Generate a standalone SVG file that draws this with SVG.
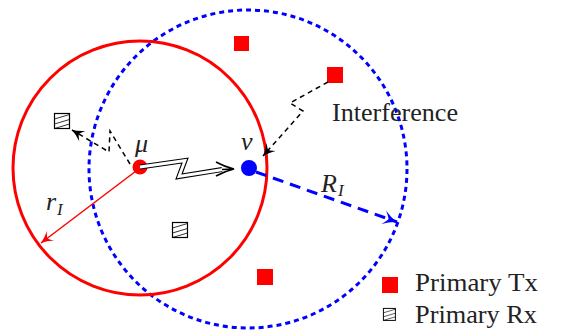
<svg xmlns="http://www.w3.org/2000/svg" width="564" height="333" viewBox="0 0 564 333">
<style>
.txt{font-family:"Liberation Serif","Times New Roman","DejaVu Serif",serif;fill:#222}
.math{font-family:"Liberation Serif","Times New Roman","DejaVu Serif",serif;font-style:italic;fill:#222}
.tx{fill:#ff0000}
.dash{fill:none;stroke:#000;stroke-width:1.5;stroke-dasharray:5,4}
</style>
<defs>
<marker id="ak" markerWidth="16" markerHeight="12" viewBox="-14 -6 16 12" refX="0" refY="0" orient="auto" markerUnits="userSpaceOnUse">
<path d="M0,0 Q-6,-2 -12,-6 Q-8,-1 -8,0 Q-8,1 -12,6 Q-6,2 0,0Z" fill="#000"/>
</marker>
<marker id="ar" markerWidth="16" markerHeight="12" viewBox="-14 -6 16 12" refX="0" refY="0" orient="auto" markerUnits="userSpaceOnUse">
<path d="M0,0 Q-6,-2 -12,-6 Q-8,-1 -8,0 Q-8,1 -12,6 Q-6,2 0,0Z" fill="#ff0000"/>
</marker>
<marker id="ab" markerWidth="18" markerHeight="14" viewBox="-16 -7 18 14" refX="0" refY="0" orient="auto" markerUnits="userSpaceOnUse">
<path d="M0,0 Q-7,-2 -14,-7 Q-9,-1 -9,0 Q-9,1 -14,7 Q-7,2 0,0Z" fill="#0000ff"/>
</marker>
<g id="rx">
<rect x="0.5" y="0.5" width="15" height="15" fill="#fff" stroke="#000" stroke-width="1.2"/>
<path d="M0.5,6 L15.5,1.5 M0.5,11 L15.5,6.5 M0.5,15.5 L15.5,11" stroke="#000" stroke-width="0.8" fill="none"/>
</g>
</defs>

<g id="circle-nu">
<circle cx="248" cy="169" r="159" fill="none" stroke="#0000ff" stroke-width="3" stroke-dasharray="5,4"/>
</g>
<g id="circle-mu">
<circle cx="140" cy="168" r="127" fill="none" stroke="#ff0000" stroke-width="3"/>
</g>

<g id="tx1"><rect class="tx" x="234" y="36" width="15" height="15"/></g>
<g id="tx2"><rect class="tx" x="327" y="67" width="16" height="16"/></g>
<g id="tx3"><rect class="tx" x="257" y="269" width="16" height="16"/></g>
<g id="rx1"><use href="#rx" x="54" y="113"/></g>
<g id="rx2"><use href="#rx" x="172" y="222"/></g>

<g id="connectors">
<path class="dash" d="M130,164 L110,131 L109,152 L72,130" marker-end="url(#ak)"/>
<path class="dash" d="M328,82 L290,103 L303,111 L263,156" marker-end="url(#ak)"/>
<path d="M140,168 L41,243" stroke="#ff0000" stroke-width="1.5" fill="none" marker-end="url(#ar)"/>
<path d="M256,172 L397,222" stroke="#0000ff" stroke-width="3" stroke-dasharray="11,7" fill="none" marker-end="url(#ab)"/>
</g>

<g id="node-mu">
<circle cx="140" cy="167" r="7.5" fill="#ff0000"/>
<text class="math" x="135" y="152" font-size="26">μ</text>
</g>
<g id="node-nu">
<circle cx="249" cy="168" r="8" fill="#0000ff"/>
<text class="math" x="241" y="150" font-size="26">ν</text>
</g>

<g id="link">
<path d="M140,167 L185,160.5 L179,176.5 L222,169.5" fill="none" stroke="#000" stroke-width="5" stroke-linejoin="miter"/>
<path d="M140,167 L185,160.5 L179,176.5 L223,169.5" fill="none" stroke="#fff" stroke-width="2.8" stroke-linejoin="miter"/>
<path d="M216,162 Q225,167 234,169 Q225,171 216,176 M222,169.5 L233,169" fill="none" stroke="#000" stroke-width="1.5"/>
</g>

<text class="txt" x="332" y="121" font-size="25" textLength="126" lengthAdjust="spacingAndGlyphs">Interference</text>
<text class="math" x="321" y="192" font-size="26">R</text>
<text class="math" x="338" y="196" font-size="17">I</text>
<text class="math" x="46" y="210" font-size="26">r</text>
<text class="math" x="57" y="215" font-size="17">I</text>

<g id="legend">
<rect class="tx" x="382" y="277" width="16" height="16"/>
<text class="txt" x="415" y="291" font-size="25" textLength="123" lengthAdjust="spacingAndGlyphs">Primary Tx</text>
<g transform="translate(383,308) scale(0.8)"><use href="#rx"/></g>
<text class="txt" x="415" y="323" font-size="25" textLength="122" lengthAdjust="spacingAndGlyphs">Primary Rx</text>
</g>
</svg>
